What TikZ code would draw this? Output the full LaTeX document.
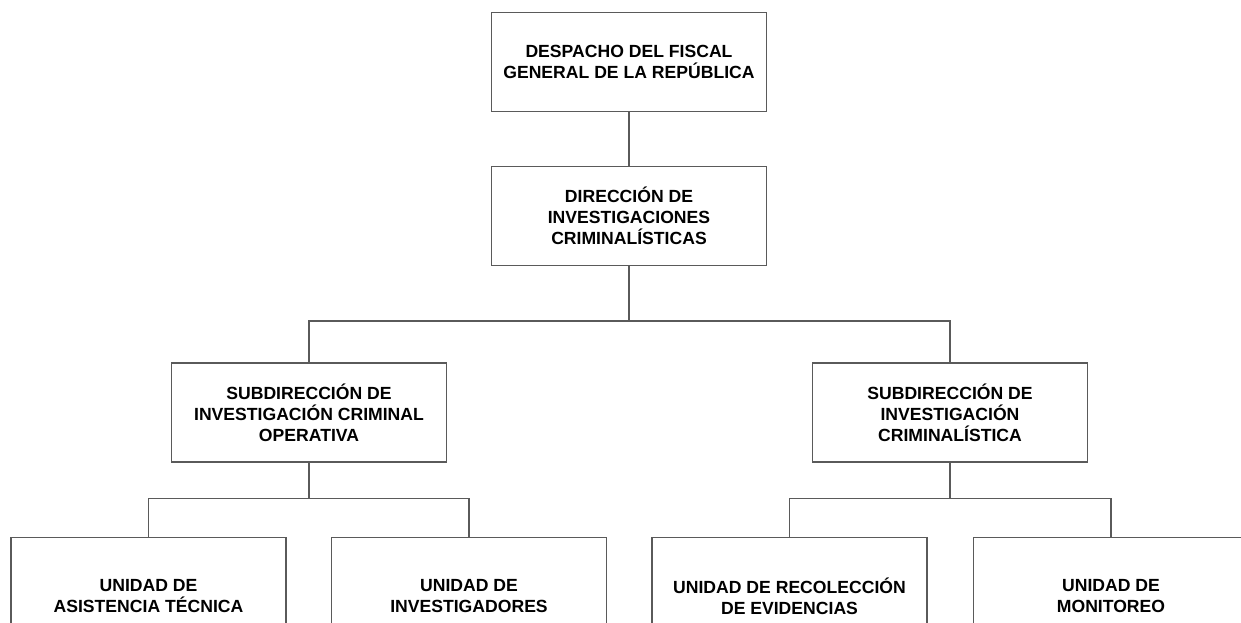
\documentclass[tikz,border=0pt]{standalone}
\usepackage{fontspec}
\setmainfont{Liberation Sans}
\usepackage{xcolor}
\usepackage{tikz}
\definecolor{edge}{HTML}{5A5A5A}
\tikzset{
  unit/.style={draw=edge, line width=1.2pt, fill=white, minimum width=275pt, minimum height=99pt, inner sep=0pt, align=center, font=\bfseries\fontsize{17.6}{20.8}\selectfont},
  lowunit/.style={unit, minimum height=117pt, anchor=north},
  conn/.style={draw=edge, line width=1.2pt}
}

\begin{document}
\begin{tikzpicture}[x=1pt, y=-1pt]
  \useasboundingbox (0,0) rectangle (1241,623);
  \clip (0,0) rectangle (1241,623);

  \node[unit] (desp) at (629,62) {DESPACHO DEL FISCAL\\GENERAL DE LA REPÚBLICA};
  \node[unit] (dir) at (629,216) {DIRECCIÓN DE\\INVESTIGACIONES\\CRIMINALÍSTICAS};

  \node[unit] (subop) at (309,412.5) {SUBDIRECCIÓN DE\\INVESTIGACIÓN CRIMINAL\\OPERATIVA};
  \node[unit] (subcr) at (950,412.5) {SUBDIRECCIÓN DE\\INVESTIGACIÓN\\CRIMINALÍSTICA};

  \node[lowunit] (uat) at (148.5,537) {UNIDAD DE\\ASISTENCIA TÉCNICA};
  \node[lowunit] (uinv) at (469,537) {UNIDAD DE\\INVESTIGADORES};
  \node[lowunit] (urec) at (789.5,537) {UNIDAD DE RECOLECCIÓN\\DE EVIDENCIAS};
  \node[lowunit] (umon) at (1111,537) {UNIDAD DE\\MONITOREO};

  % junctions
  \coordinate (jtop) at (629,321);
  \coordinate (jleft) at (309,498.5);
  \coordinate (jright) at (950,498.5);

  \draw[conn] (desp.south) -- (dir.north);
  \draw[conn] (dir.south) -- (jtop);
  \draw[conn] (subop.north) -- (subop.north |- jtop) -| (subcr.north);

  \draw[conn] (subop.south) -- (jleft);
  \draw[conn] (uat.north) -- (uat.north |- jleft) -| (uinv.north);

  \draw[conn] (subcr.south) -- (jright);
  \draw[conn] (urec.north) -- (urec.north |- jright) -| (umon.north);
\end{tikzpicture}
\end{document}
